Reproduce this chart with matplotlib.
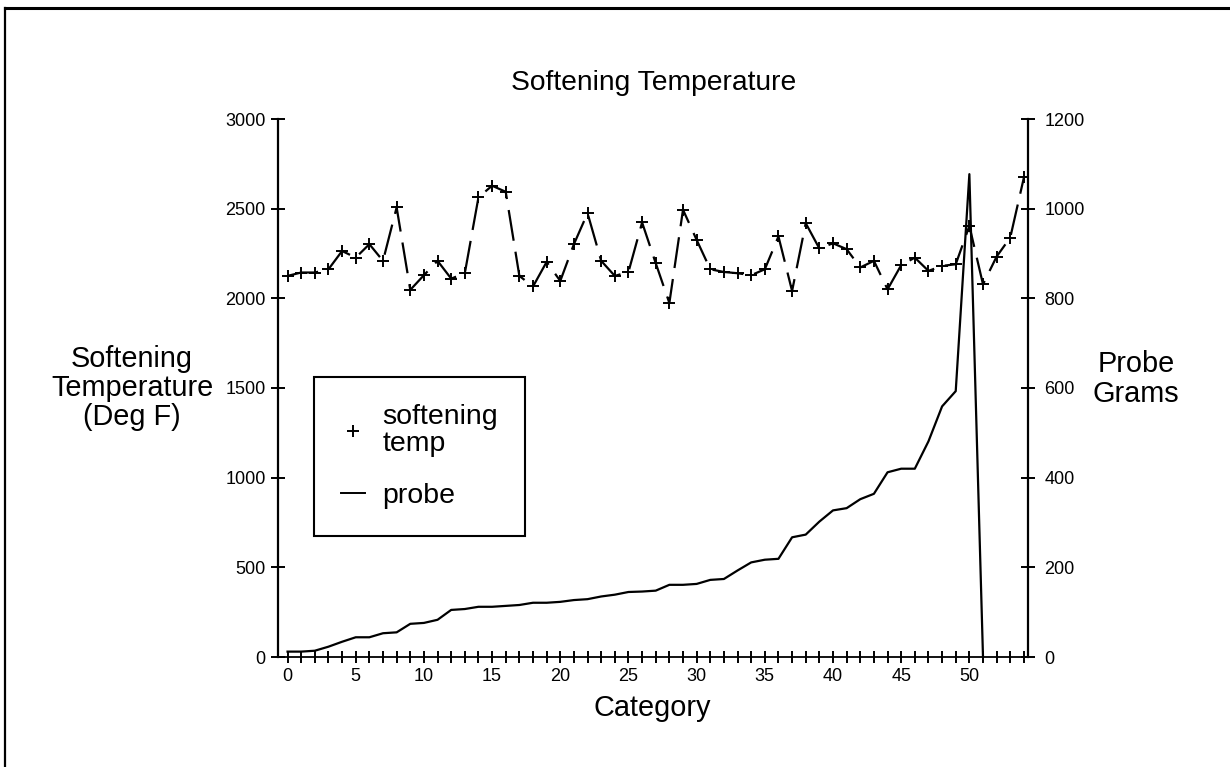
import numpy as np
import matplotlib
matplotlib.use("Agg")
import matplotlib.pyplot as plt
from matplotlib.lines import Line2D

plt.rcParams['font.family'] = ['Liberation Sans', 'DejaVu Sans']

categories = list(range(55))
softening_temp = [2125, 2144, 2144, 2162, 2264, 2227, 2302, 2209, 2507, 2047,
                  2129, 2209, 2110, 2140, 2563, 2628, 2594, 2125, 2066, 2203,
                  2097, 2302, 2475, 2209, 2125, 2147, 2423, 2196, 1974, 2494,
                  2326, 2162, 2147, 2140, 2129, 2162, 2345, 2041, 2419, 2278,
                  2307, 2274, 2172, 2209, 2050, 2185, 2227, 2153, 2181, 2190,
                  2404, 2078, 2233, 2339, 2674]
nan = float('nan')
probe_grams = [12, 12, 14, 23, 34, 44, 44, 53, 55, 74,
               76, 83, 105, 107, 112, 112, 114, 116, 121, 121,
               123, 127, 129, 135, 139, 145, 146, 148, 161, 161,
               163, 172, 174, 193, 211, 217, 219, 267, 273, 302,
               327, 332, 352, 364, 412, 420, 420, 481, 559, 593,
               1077, 0, nan, nan, nan]
x_tick_labels = [str(c) if c % 5 == 0 and c <= 50 else '' for c in categories]
left_ticks = [0, 500, 1000, 1500, 2000, 2500, 3000]
right_ticks = [0, 200, 400, 600, 800, 1000, 1200]

W, H = 1230, 767
fig = plt.figure(figsize=(W / 100, H / 100), dpi=100)
ax = fig.add_axes([278 / W, 1 - 657 / H, (1028 - 278) / W, (657 - 119) / H])
ax2 = ax.twinx()

ln1, = ax.plot(categories, softening_temp, color='black', lw=1.6,
               linestyle=(0, (14, 5)), marker='+', markersize=9, mew=1.4)
ln2, = ax2.plot(categories, probe_grams, color='black', lw=1.6)

ax.set_xlim(-0.7, 54.3)
ax.set_ylim(0, 3000)
ax2.set_ylim(0, 1200)

ax.set_xticks(categories)
ax.set_xticklabels(x_tick_labels)
ax.set_yticks(left_ticks)
ax2.set_yticks(right_ticks)

for a in (ax, ax2):
    a.spines['top'].set_visible(False)
ax.spines['right'].set_visible(False)
ax2.spines['left'].set_visible(False)
ax2.spines['bottom'].set_visible(False)
ax.spines['left'].set_linewidth(1.6)
ax.spines['bottom'].set_linewidth(1.3)
ax2.spines['right'].set_linewidth(1.6)

ax.tick_params(axis='x', direction='inout', length=8, width=1.4, pad=4, labelsize=13)
ax.tick_params(axis='y', direction='inout', length=9.5, width=1.4, pad=4, labelsize=13)
ax2.tick_params(axis='y', direction='inout', length=9.5, width=1.4, pad=7, labelsize=13)

fig.text(654 / W, 1 - 83 / H, 'Softening Temperature', ha='center', va='center', fontsize=20.3)
fig.text(652 / W, 1 - 708 / H, 'Category', ha='center', va='center', fontsize=20.8)
fig.text(132 / W, 1 - 388 / H, 'Softening\nTemperature\n(Deg F)', ha='center', va='center',
         fontsize=20.8, linespacing=1.05, multialignment='center')
fig.text(1136 / W, 1 - 379 / H, 'Probe\nGrams', ha='center', va='center',
         fontsize=20.8, linespacing=1.05, multialignment='center')

h1 = Line2D([], [], color='black', marker='+', markersize=9, mew=1.4, linestyle='none')
h2 = Line2D([], [], color='black', lw=1.4)
leg = ax.legend([h1, h2], ['softening\ntemp', 'probe'], loc='upper left',
                bbox_to_anchor=((314 - 278) / 750, (657 - 377) / 538), borderaxespad=0,
                fontsize=20.5, frameon=True, fancybox=False, shadow=False,
                handlelength=0.85, handletextpad=0.6, borderpad=0.95, labelspacing=0.9)
leg.get_frame().set_edgecolor('black')
leg.get_frame().set_linewidth(1.5)
leg.get_frame().set_alpha(1)
for t in leg.get_texts():
    t.set_linespacing(1.05)

# outer frame (top and left edges)
fig.add_artist(Line2D([5 / W, 1], [1 - 8 / H, 1 - 8 / H], transform=fig.transFigure,
                      color='black', lw=2.2))
fig.add_artist(Line2D([5 / W, 5 / W], [0, 1 - 8 / H], transform=fig.transFigure,
                      color='black', lw=1.6))

fig.savefig('out.png', dpi=100)
